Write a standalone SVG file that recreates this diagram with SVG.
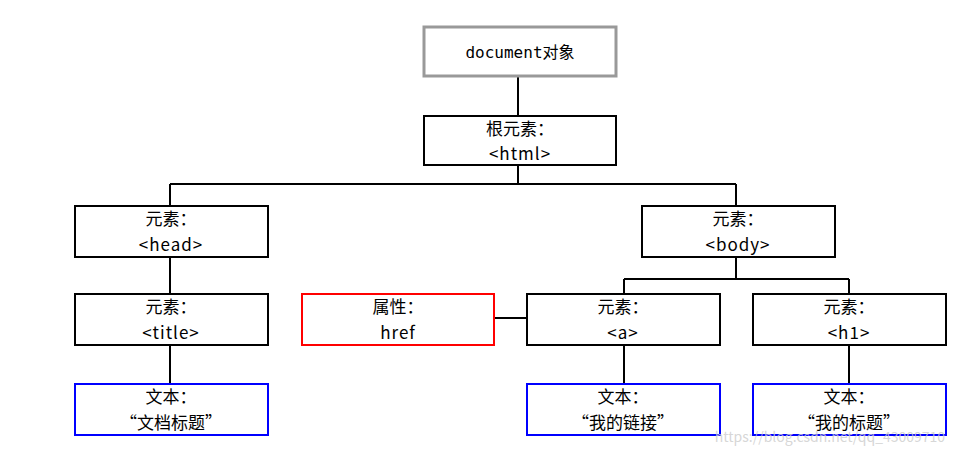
<svg xmlns="http://www.w3.org/2000/svg" width="970" height="453" viewBox="0 0 970 453">
<style>
rect{fill:#fff;stroke:#000;stroke-width:2}
.doc{stroke:#999;stroke-width:3}
.red{stroke:#f00}
.blue{stroke:#00f}
text{font-family:"Noto Sans CJK SC","DejaVu Sans",sans-serif;font-size:17px;text-anchor:middle;fill:#000}
.s{letter-spacing:1px}
.m{font-family:"DejaVu Sans Mono","Noto Sans CJK SC",monospace;font-size:16px}
#conn path{fill:none;stroke:#000;stroke-width:2}
</style>
<rect x="0" y="0" width="970" height="453" style="fill:#fff;stroke:none"/>
<g id="conn">
<path d="M518 76V116M518 165V184M170 184H736M170 184V206M736 184V206M170 257V294M170 345V384M736 257V279M624 279H849M624 279V294M849 279V294M624 345V384M849 345V384M494 318H527"/>
</g>
<g id="doc"><rect class="doc" x="424" y="27" width="192" height="49"/><text class="m" x="520" y="58">document对象</text></g>
<g id="html"><rect x="424" y="116" width="192" height="49"/><text x="520" y="135">根元素：</text><text class="s" x="520" y="160">&lt;html&gt;</text></g>
<g id="head"><rect x="75" y="206" width="193" height="51"/><text x="171" y="225">元素：</text><text class="s" x="171" y="251">&lt;head&gt;</text></g>
<g id="body"><rect x="642" y="206" width="193" height="51"/><text x="738" y="225">元素：</text><text class="s" x="738" y="251">&lt;body&gt;</text></g>
<g id="title"><rect x="75" y="294" width="193" height="51"/><text x="171" y="313">元素：</text><text class="s" x="171" y="339">&lt;title&gt;</text></g>
<g id="href"><rect class="red" x="302" y="294" width="192" height="51"/><text x="398" y="313">属性：</text><text class="s" x="398" y="339">href</text></g>
<g id="a"><rect x="527" y="294" width="193" height="51"/><text x="623" y="313">元素：</text><text class="s" x="623" y="339">&lt;a&gt;</text></g>
<g id="h1"><rect x="753" y="294" width="193" height="51"/><text x="849" y="313">元素：</text><text class="s" x="849" y="339">&lt;h1&gt;</text></g>
<g id="t1"><rect class="blue" x="75" y="384" width="193" height="51"/><text x="171" y="403">文本：</text><text x="171" y="429">“文档标题”</text></g>
<g id="t2"><rect class="blue" x="527" y="384" width="193" height="51"/><text x="623" y="403">文本：</text><text x="623" y="429">“我的链接”</text></g>
<g id="t3"><rect class="blue" x="753" y="384" width="193" height="51"/><text x="849" y="403">文本：</text><text x="849" y="429">“我的标题”</text></g>
<text x="830" y="442" style="font-size:14px;fill:#ccc;fill-opacity:0.8">https://blog.csdn.net/qq_43009710</text>
</svg>
